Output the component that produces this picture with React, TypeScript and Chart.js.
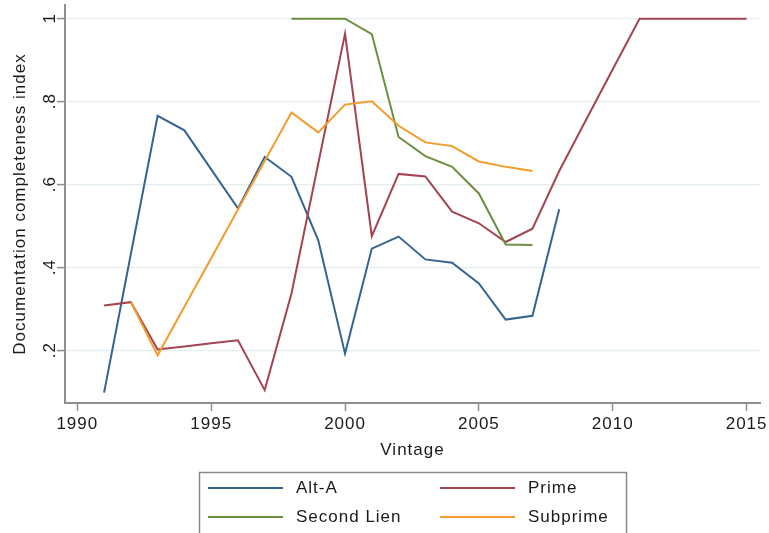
import React, { useEffect, useRef } from "react";
import { Chart, registerables } from "chart.js";

Chart.register(...registerables);

const years = [
  1991, 1992, 1993, 1994, 1995, 1996, 1997, 1998, 1999, 2000, 2001, 2002, 2003,
  2004, 2005, 2006, 2007, 2008, 2009, 2010, 2011, 2012, 2013, 2014, 2015,
];

const altA = [
  0.099, 0.433, 0.766, 0.731, 0.637, 0.543, 0.667, 0.619, 0.466, 0.193, 0.446,
  0.475, 0.42, 0.412, 0.362, 0.275, 0.284, 0.541, null, null, null, null, null,
  null, null,
];

const prime = [
  0.309, 0.317, 0.203, 0.21, 0.218, 0.225, 0.105, 0.338, 0.651, 0.964, 0.476,
  0.626, 0.62, 0.535, 0.507, 0.462, 0.494, 0.633, 0.756, 0.878, 1.0, 1.0, 1.0,
  1.0, 1.0,
];

const secondLien = [
  null, null, null, null, null, null, null, 1.0, 1.0, 1.0, 0.963, 0.715, 0.669,
  0.643, 0.579, 0.456, 0.455, null, null, null, null, null, null, null, null,
];

const subprime = [
  null, 0.317, 0.189, 0.306, 0.423, 0.54, 0.657, 0.774, 0.726, 0.793, 0.801,
  0.742, 0.702, 0.693, 0.656, 0.643, 0.633, null, null, null, null, null, null,
  null, null,
];

const seriesNames = ["Alt-A", "Prime", "Second Lien", "Subprime"];
const seriesValues = [altA, prime, secondLien, subprime];
const seriesColors = ["#34648f", "#a34450", "#6b8f3f", "#f39c2b"];

const xTicks = [1990, 1995, 2000, 2005, 2010, 2015];
const yTicks = [0.2, 0.4, 0.6, 0.8, 1];
const yTickLabels = [".2", ".4", ".6", ".8", "1"];

const xTitle = "Vintage";
const yTitle = "Documentation completeness index";

const FONT = '"Liberation Sans", Arial, Helvetica, sans-serif';
const TEXT = "#1a1a1a";
const AXIS = "#8f8f8f";

const customPlugin = {
  id: "customDecor",
  beforeDraw(chart: any) {
    chart.ctx.letterSpacing = "1px";
  },
  afterDraw(chart: any) {
    const ctx = chart.ctx as CanvasRenderingContext2D;
    const ys = chart.scales.y;
    ctx.save();
    ctx.letterSpacing = "1px";
    ctx.fillStyle = TEXT;
    ctx.font = `17px ${FONT}`;
    ctx.textAlign = "center";
    ctx.textBaseline = "alphabetic";
    yTicks.forEach((v, i) => {
      const py = ys.getPixelForValue(v);
      ctx.save();
      ctx.translate(54.5, py);
      ctx.rotate(-Math.PI / 2);
      ctx.fillText(yTickLabels[i], 0.5, 0);
      ctx.restore();
    });

    // legend box
    ctx.strokeStyle = "#8a8a8a";
    ctx.lineWidth = 1.5;
    ctx.strokeRect(199.5, 472.5, 427, 90);
    const colX = [208, 440];
    const rowY = [488, 517];
    chart.data.datasets.forEach((ds: any, i: number) => {
      const cx = colX[i % 2];
      const cy = rowY[Math.floor(i / 2)];
      ctx.strokeStyle = ds.borderColor;
      ctx.lineWidth = 2;
      ctx.beginPath();
      ctx.moveTo(cx, cy);
      ctx.lineTo(cx + 75, cy);
      ctx.stroke();
      ctx.fillStyle = TEXT;
      ctx.textAlign = "left";
      ctx.textBaseline = "middle";
      ctx.fillText(ds.label, cx + 88, cy);
    });
    ctx.restore();
  },
};

export default function App() {
  const canvasRef = useRef<HTMLCanvasElement | null>(null);

  useEffect(() => {
    if (!canvasRef.current) return;
    const datasets = seriesNames.map((name, i) => ({
      label: name,
      data: years.map((yr, j) => ({ x: yr, y: seriesValues[i][j] })),
      borderColor: seriesColors[i],
      backgroundColor: seriesColors[i],
      borderWidth: 2,
      pointRadius: 0,
      fill: false,
      tension: 0,
      spanGaps: false,
      order: seriesNames.length - i,
    }));

    const chart = new Chart(canvasRef.current, {
      type: "line",
      data: { datasets },
      plugins: [customPlugin],
      options: {
        animation: false,
        responsive: false,
        devicePixelRatio: 1,
        layout: { padding: { left: 0, right: 9, top: 5, bottom: 70 } },
        plugins: {
          legend: { display: false },
          tooltip: { enabled: false },
        },
        scales: {
          x: {
            type: "linear",
            min: 1989.54,
            max: 2015.5,
            afterBuildTicks: (s: any) => {
              s.ticks = xTicks.map((v) => ({ value: v }));
            },
            afterFit: (s: any) => {
              s.height = 60;
              s.paddingLeft = 0;
              s.paddingRight = 0;
            },
            ticks: {
              callback: (v: any) => String(v),
              font: { family: FONT, size: 17 },
              color: TEXT,
              padding: 3,
              maxRotation: 0,
              minRotation: 0,
              autoSkip: false,
            },
            grid: {
              drawOnChartArea: false,
              drawTicks: true,
              tickLength: 8,
              tickColor: AXIS,
              tickWidth: 1.5,
            },
            border: { display: true, color: AXIS, width: 2 },
            title: {
              display: true,
              text: xTitle,
              font: { family: FONT, size: 17 },
              color: TEXT,
              padding: { top: 0, bottom: 2 },
            },
          },
          y: {
            type: "linear",
            min: 0.074,
            max: 1.033,
            afterBuildTicks: (s: any) => {
              s.ticks = yTicks.map((v) => ({ value: v }));
            },
            afterFit: (s: any) => {
              s.width = 65;
              s.paddingTop = 0;
              s.paddingBottom = 0;
            },
            ticks: { display: false },
            grid: {
              color: "#e4eef1",
              lineWidth: 1.2,
              drawTicks: true,
              tickLength: 8,
              tickColor: AXIS,
              tickWidth: 1.5,
            },
            border: { display: true, color: AXIS, width: 2 },
            title: {
              display: true,
              text: yTitle,
              font: { family: FONT, size: 17 },
              color: TEXT,
              padding: { top: 10, bottom: 0 },
            },
          },
        },
      },
    } as any);

    return () => chart.destroy();
  }, []);

  return (
    <div style={{ position: "fixed", left: 0, top: 0, width: 769, height: 533, background: "#fff" }}>
      <canvas ref={canvasRef} width={769} height={533} style={{ display: "block" }} />
    </div>
  );
}
